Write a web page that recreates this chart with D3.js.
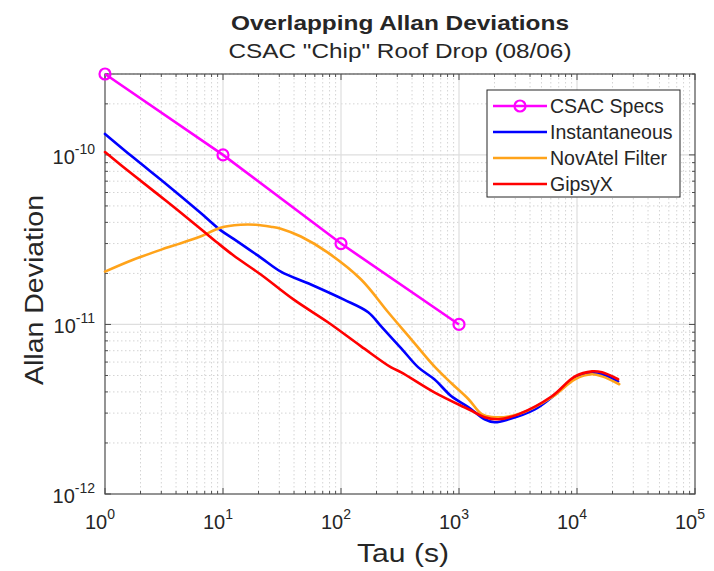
<!DOCTYPE html>
<html><head><meta charset="utf-8">
<script src="https://cdn.jsdelivr.net/npm/d3@7"></script>
<style>body{margin:0;background:#fff}svg{display:block}text{font-family:"Liberation Sans",Arial,sans-serif;fill:#262626}</style>
</head><body>
<svg id="c" width="714" height="571"></svg>
<script>
const title = "Overlapping Allan Deviations";
const subtitle = 'CSAC "Chip" Roof Drop (08/06)';
const xLabel = "Tau (s)";
const yLabel = "Allan Deviation";
const xTickExps = [0,1,2,3,4,5];
const yTickExps = [-12,-11,-10];
const seriesNames = ["CSAC Specs","Instantaneous","NovAtel Filter","GipsyX"];
const seriesColors = ["#ff00ff","#0000ff","#ffa31a","#ff0000"];

const csacTau = [1,10,100,1000];
const csacDev = [3e-10,1e-10,3e-11,1e-11];

const instTau = [1,1.73,3.37,6.44,9.52,12.3,20.9,30.9,55.6,106,170,219,324,452,618,863,1205,1649,2005,2640,4390,6125,9610,13400,16300,22300];
const instDev = [1.33e-10,9.67e-11,6.65e-11,4.56e-11,3.6e-11,3.2e-11,2.48e-11,2.05e-11,1.72e-11,1.40e-11,1.18e-11,9.73e-12,7.23e-12,5.58e-12,4.75e-12,3.77e-12,3.25e-12,2.76e-12,2.65e-12,2.76e-12,3.16e-12,3.72e-12,4.81e-12,5.15e-12,5.08e-12,4.62e-12];

const novTau = [1,1.73,3.37,6.44,9.52,14.1,18.9,25.4,30.9,45.7,77.5,148,251,394,618,863,1205,1554,1891,3210,6125,9610,13400,16300,22800];
const novDev = [2.05e-11,2.41e-11,2.84e-11,3.30e-11,3.72e-11,3.87e-11,3.87e-11,3.77e-11,3.67e-11,3.30e-11,2.65e-11,1.84e-11,1.18e-11,8.17e-12,5.66e-12,4.50e-12,3.62e-12,2.96e-12,2.84e-12,2.96e-12,3.72e-12,4.75e-12,5.08e-12,4.94e-12,4.44e-12];

const gipTau = [1,1.73,3.37,6.44,8.98,12.3,20.9,39.8,77.5,148,266,324,618,1205,1649,2170,3210,6125,9610,13400,16300,22300];
const gipDev = [1.04e-10,7.63e-11,5.29e-11,3.67e-11,3.03e-11,2.55e-11,1.97e-11,1.40e-11,1.03e-11,7.43e-12,5.58e-12,5.22e-12,3.98e-12,3.16e-12,2.84e-12,2.76e-12,2.96e-12,3.77e-12,4.94e-12,5.29e-12,5.22e-12,4.75e-12];

const svg = d3.select("#c");
const L=105,R=695,T=74,B=494;
const x = d3.scaleLog().domain([1,1e5]).range([L,R]);
const y = d3.scaleLog().domain([1e-12,3e-10]).range([B,T]);

// grid
const g = svg.append("g");
const xMinor=[], yMinor=[];
for(let e=0;e<5;e++) for(let k=2;k<=9;k++) xMinor.push(k*Math.pow(10,e));
for(let e=-12;e<-9;e++) for(let k=2;k<=9;k++){const v=k*Math.pow(10,e); if(v<=3e-10) yMinor.push(v);}
g.selectAll(".xm").data(xMinor).join("line").attr("x1",d=>x(d)).attr("x2",d=>x(d)).attr("y1",T).attr("y2",B)
 .attr("stroke","#d4d4d4").attr("stroke-width",1).attr("stroke-dasharray","1.5,2.5");
g.selectAll(".ym").data(yMinor).join("line").attr("y1",d=>y(d)).attr("y2",d=>y(d)).attr("x1",L).attr("x2",R)
 .attr("stroke","#d4d4d4").attr("stroke-width",1).attr("stroke-dasharray","1.5,2.5");
g.selectAll(".xM").data(xTickExps.slice(1,-1)).join("line").attr("x1",d=>x(Math.pow(10,d))).attr("x2",d=>x(Math.pow(10,d))).attr("y1",T).attr("y2",B)
 .attr("stroke","#dedede").attr("stroke-width",1.2);
g.selectAll(".yM").data(yTickExps.slice(1)).join("line").attr("y1",d=>y(Math.pow(10,d))).attr("y2",d=>y(Math.pow(10,d))).attr("x1",L).attr("x2",R)
 .attr("stroke","#dedede").attr("stroke-width",1.2);

// ticks (inside, all sides)
const tk = svg.append("g").attr("stroke","#4d4d4d").attr("stroke-width",1);
xTickExps.forEach(e=>{const px=x(Math.pow(10,e)); tk.append("line").attr("x1",px).attr("x2",px).attr("y1",B).attr("y2",B-6); tk.append("line").attr("x1",px).attr("x2",px).attr("y1",T).attr("y2",T+6);});
xMinor.forEach(v=>{const px=x(v); tk.append("line").attr("x1",px).attr("x2",px).attr("y1",B).attr("y2",B-3); tk.append("line").attr("x1",px).attr("x2",px).attr("y1",T).attr("y2",T+3);});
yTickExps.forEach(e=>{const py=y(Math.pow(10,e)); tk.append("line").attr("y1",py).attr("y2",py).attr("x1",L).attr("x2",L+6); tk.append("line").attr("y1",py).attr("y2",py).attr("x1",R).attr("x2",R-6);});
yMinor.forEach(v=>{const py=y(v); tk.append("line").attr("y1",py).attr("y2",py).attr("x1",L).attr("x2",L+3); tk.append("line").attr("y1",py).attr("y2",py).attr("x1",R).attr("x2",R-3);});

svg.append("rect").attr("x",L).attr("y",T).attr("width",R-L).attr("height",B-T).attr("fill","none").attr("stroke","#4d4d4d").attr("stroke-width",1.2);

// tick labels
xTickExps.forEach(e=>{
  const t=svg.append("text").attr("x",x(Math.pow(10,e))-5).attr("y",529).attr("text-anchor","middle").attr("font-size",20);
  t.append("tspan").text("10");
  t.append("tspan").attr("dy",-10).attr("font-size",14).text(e);
});
yTickExps.forEach(e=>{
  const t=svg.append("text").attr("x",95).attr("y",y(Math.pow(10,e))+9).attr("text-anchor","end").attr("font-size",20);
  t.append("tspan").text("10");
  t.append("tspan").attr("dy",-10).attr("font-size",14).text(e);
});

// lines
const line = d3.line().x(d=>x(d[0])).y(d=>y(d[1])).curve(d3.curveCatmullRom.alpha(0.5));
const lineStraight = d3.line().x(d=>x(d[0])).y(d=>y(d[1]));
const series = [
  {tau:novTau,dev:novDev,c:seriesColors[2]},
  {tau:instTau,dev:instDev,c:seriesColors[1]},
  {tau:gipTau,dev:gipDev,c:seriesColors[3]}
];
[series[1],series[0],series[2]].forEach(s=>{
  svg.append("path").datum(d3.zip(s.tau,s.dev)).attr("d",line).attr("fill","none").attr("stroke",s.c).attr("stroke-width",2.6).attr("stroke-linejoin","round").attr("stroke-linecap","round");
});
const csac = d3.zip(csacTau,csacDev);
svg.append("path").datum(csac).attr("d",lineStraight).attr("fill","none").attr("stroke",seriesColors[0]).attr("stroke-width",2.6);
svg.selectAll(".mk").data(csac).join("circle").attr("cx",d=>x(d[0])).attr("cy",d=>y(d[1])).attr("r",5.5)
  .attr("fill","none").attr("stroke",seriesColors[0]).attr("stroke-width",2.2);

// legend
const lg = svg.append("g");
lg.append("rect").attr("x",487).attr("y",90).attr("width",193).attr("height",107).attr("fill","#fff").attr("stroke","#262626").attr("stroke-width",1);
seriesNames.forEach((n,i)=>{
  const yy = 106 + i*26;
  lg.append("line").attr("x1",493).attr("x2",547).attr("y1",yy).attr("y2",yy).attr("stroke",seriesColors[i]).attr("stroke-width",2.6);
  if(i===0) lg.append("circle").attr("cx",520).attr("cy",yy).attr("r",5.5).attr("fill","none").attr("stroke",seriesColors[0]).attr("stroke-width",2.2);
  lg.append("text").attr("x",550).attr("y",yy+7).attr("font-size",19.5).text(n);
});

// titles
svg.append("text").attr("x",400).attr("y",30).attr("text-anchor","middle").attr("font-size",21).attr("font-weight","bold")
  .attr("textLength",338).attr("lengthAdjust","spacingAndGlyphs").text(title);
svg.append("text").attr("x",400).attr("y",58).attr("text-anchor","middle").attr("font-size",21)
  .attr("textLength",343).attr("lengthAdjust","spacingAndGlyphs").text(subtitle);
svg.append("text").attr("x",403).attr("y",562).attr("text-anchor","middle").attr("font-size",26)
  .attr("textLength",92).attr("lengthAdjust","spacingAndGlyphs").text(xLabel);
svg.append("text").attr("transform","translate(43,290) rotate(-90)").attr("text-anchor","middle").attr("font-size",26)
  .attr("textLength",190).attr("lengthAdjust","spacingAndGlyphs").text(yLabel);
</script>
</body></html>
